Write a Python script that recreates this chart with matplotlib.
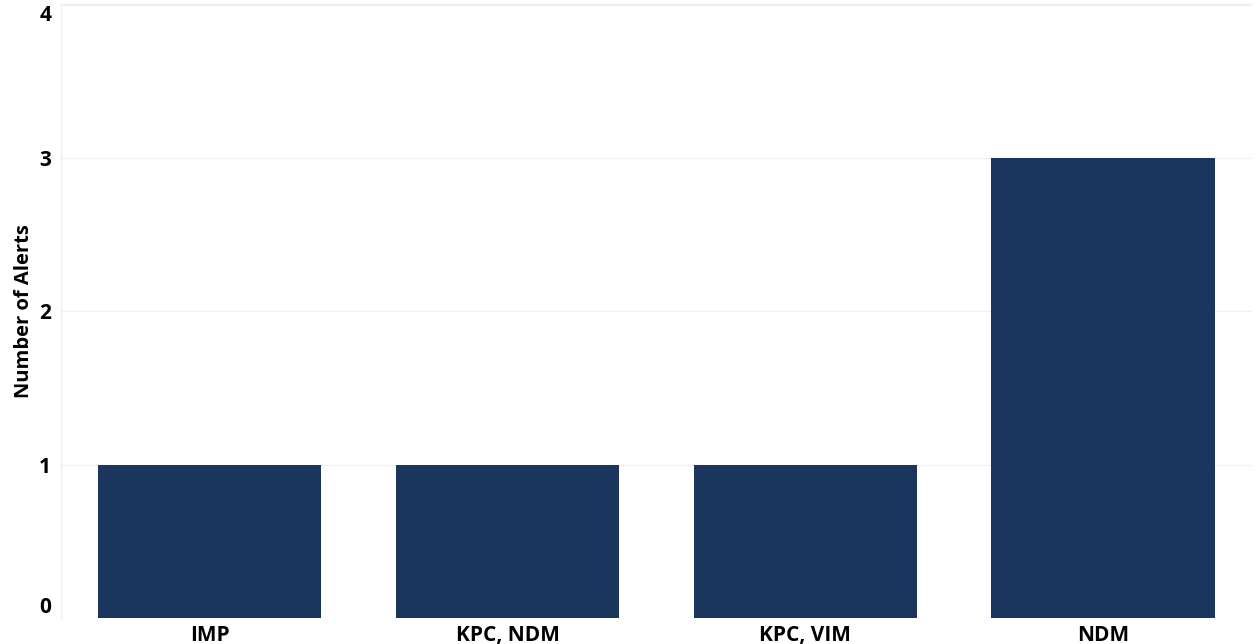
import matplotlib
matplotlib.use("Agg")
import matplotlib.pyplot as plt

categories = ["IMP", "KPC, NDM", "KPC, VIM", "NDM"]
alerts = [1, 1, 1, 3]
yticks = [0, 1, 2, 3, 4]

plt.rcParams["font.family"] = ["Open Sans", "DejaVu Sans"]
plt.rcParams["font.weight"] = "bold"

fig = plt.figure(figsize=(12.57, 6.44), dpi=100)
ax = fig.add_axes([0.0485, 0.041, 0.9475, 0.953])

x = range(len(categories))
ax.bar(x, alerts, width=0.75, color="#1a365d", zorder=3)

ax.set_xlim(-0.5, len(categories) - 0.5)
ax.set_ylim(0, 4.01)
ax.set_xticks(list(x))
ax.set_xticklabels(categories, fontsize=15, fontweight="bold")
ax.set_yticks(yticks)
ax.set_yticklabels([str(v) for v in yticks], fontsize=15, fontweight="bold")
ax.tick_params(axis="both", length=0)
ax.tick_params(axis="y", pad=7)
ax.tick_params(axis="x", pad=5)

# nudge end labels inside the axis range
ylabels = ax.get_yticklabels()
ylabels[0].set_verticalalignment("bottom")
ylabels[-1].set_verticalalignment("top")

ax.grid(axis="y", color="#f0f0f0", linewidth=1, zorder=0)
for side in ["right", "bottom"]:
    ax.spines[side].set_visible(False)
for side in ["left", "top"]:
    ax.spines[side].set_color("#f0f0f0")
    ax.spines[side].set_linewidth(1)

ax.set_ylabel("Number of Alerts", fontsize=14.5, fontweight="bold", labelpad=4)

fig.savefig("out.png", dpi=100)
